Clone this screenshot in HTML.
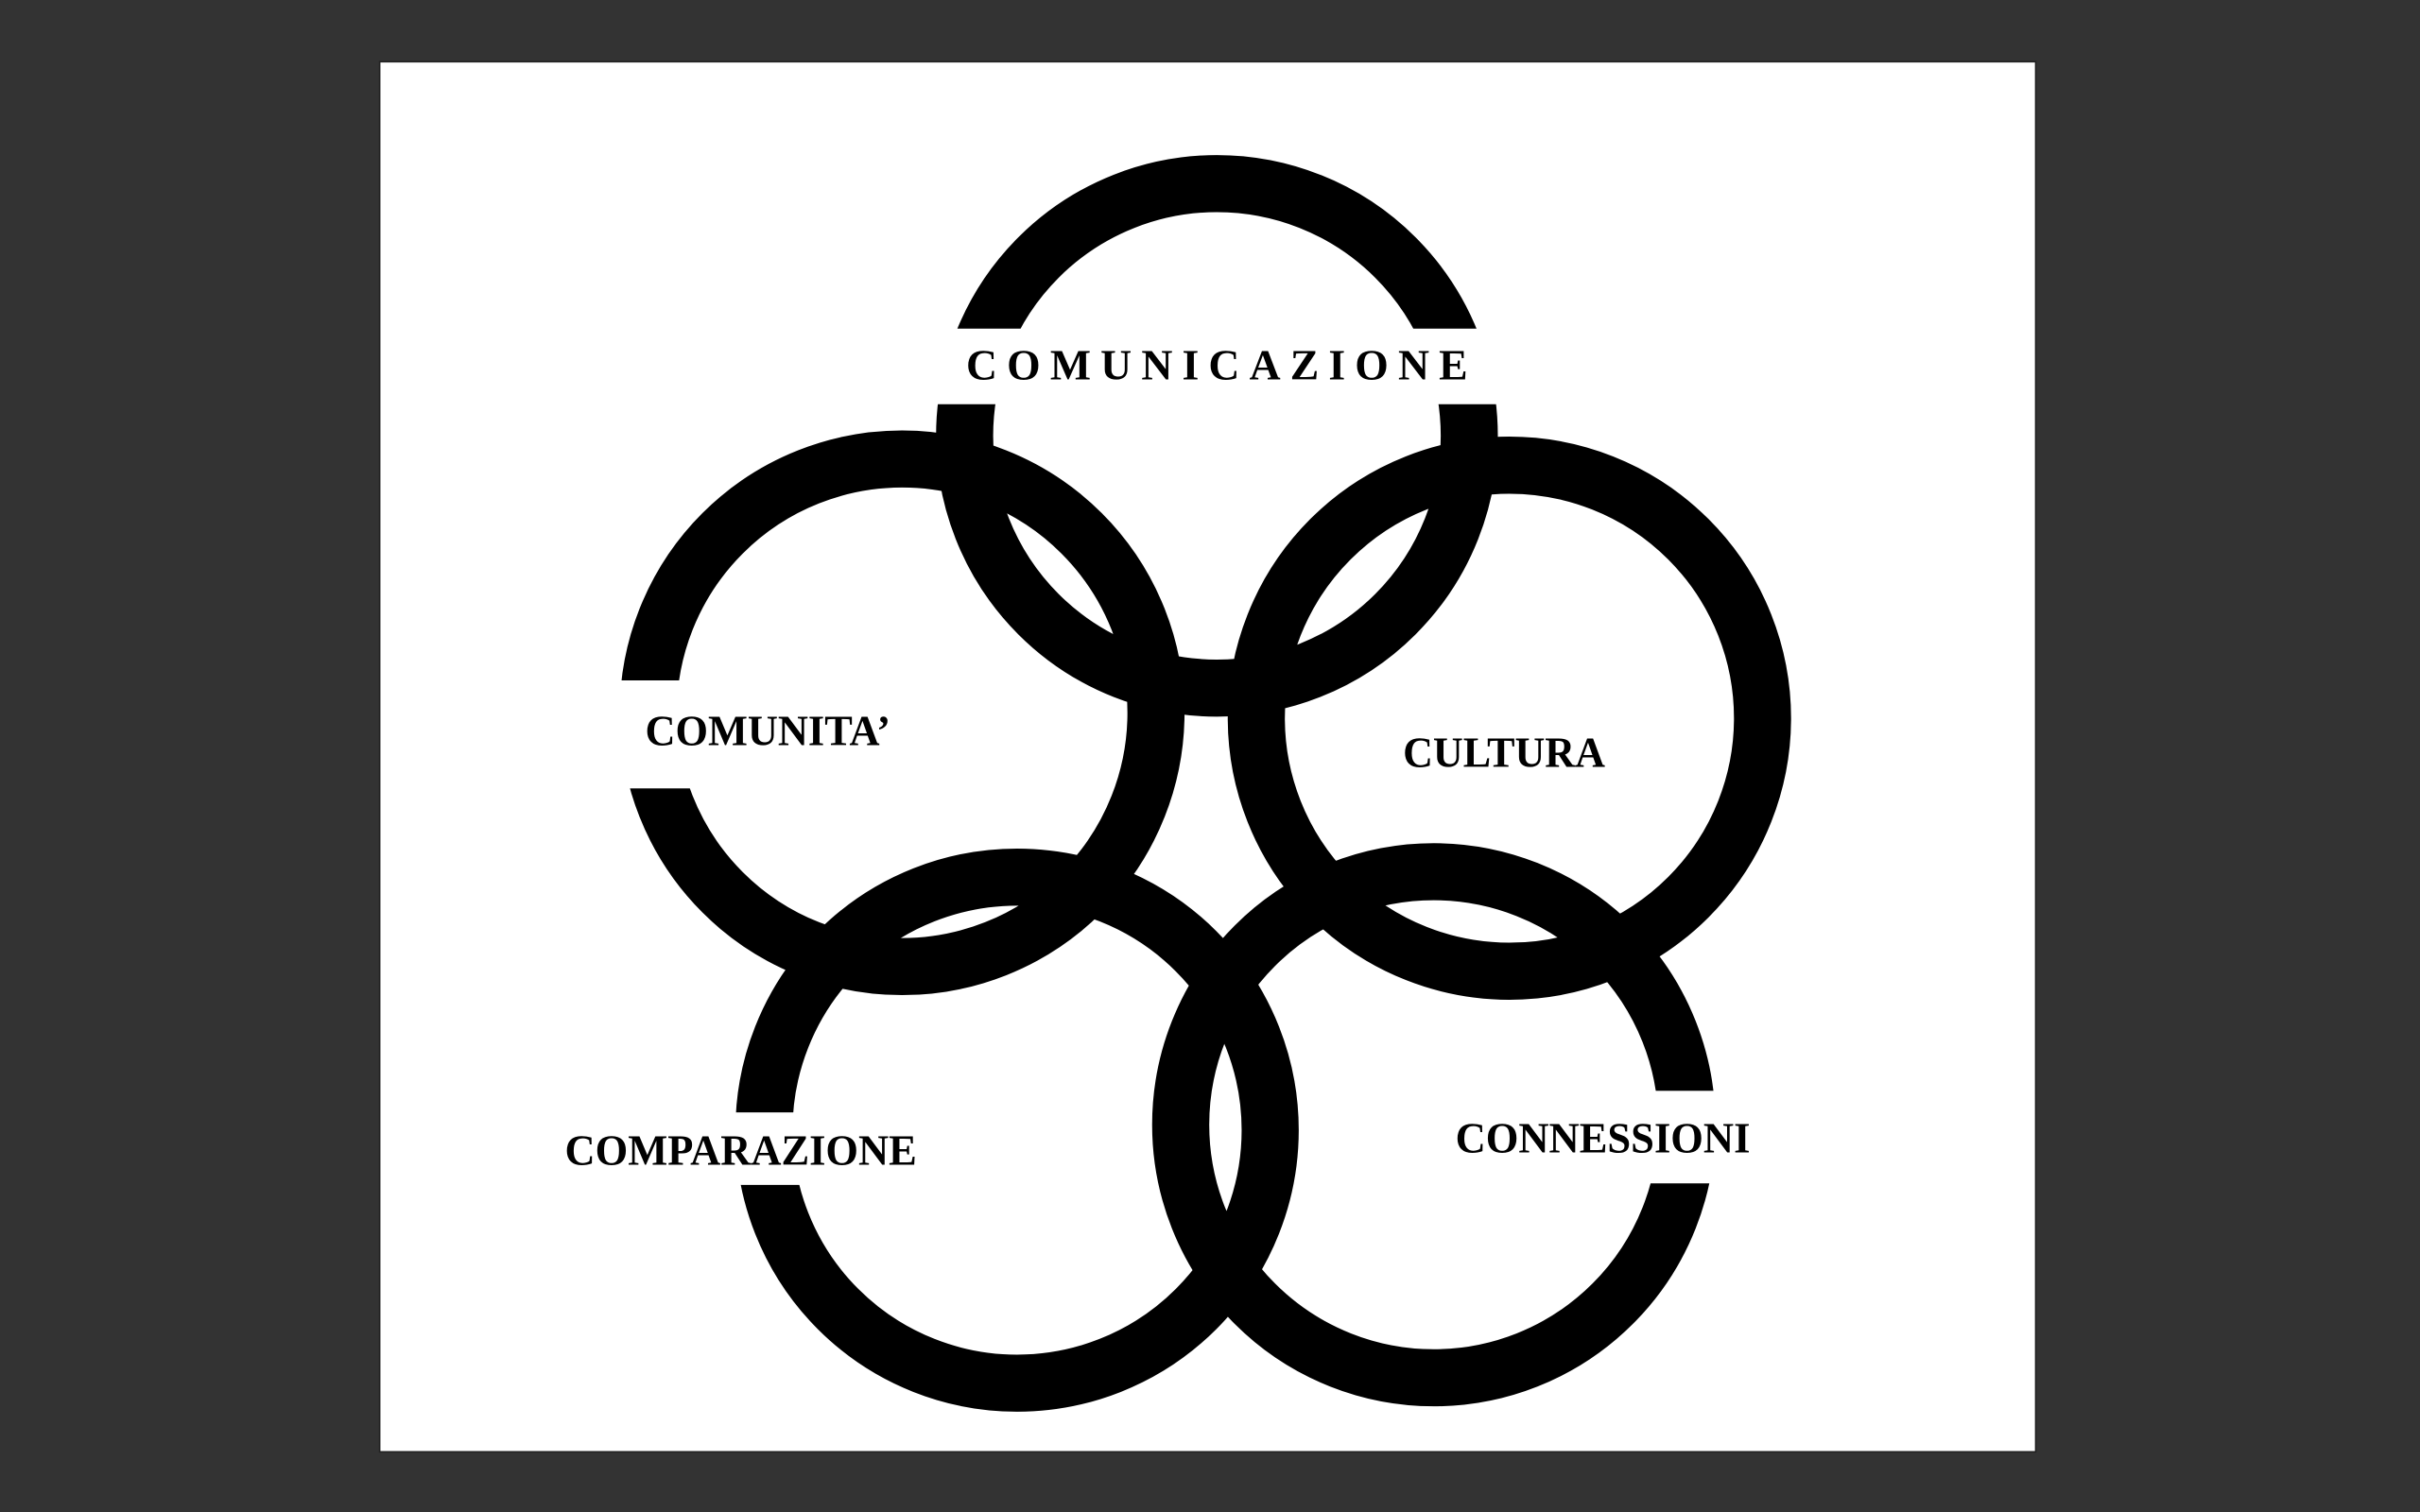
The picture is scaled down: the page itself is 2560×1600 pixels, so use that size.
<!DOCTYPE html>
<html><head><meta charset="utf-8"><style>
html,body{margin:0;padding:0;background:#333;width:2560px;height:1600px;overflow:hidden}
svg{display:block}
</style></head><body>
<svg width="2560" height="1600" viewBox="0 0 1568 980" xmlns="http://www.w3.org/2000/svg">
<rect width="1568" height="980" fill="#333"/>
<rect x="246" y="40" width="1073" height="901" fill="#fff" stroke="#222" stroke-width="1"/>
<g fill="none" stroke="#000" stroke-width="37">
<circle cx="788.5" cy="282.5" r="163.5"/>
<circle cx="584.5" cy="462" r="164.5"/>
<circle cx="978" cy="465.5" r="164"/>
<circle cx="659" cy="732.5" r="164"/>
<circle cx="929" cy="729" r="164"/>
</g>
<g fill="#fff">
<rect x="590" y="213" width="400" height="49"/>
<rect x="390" y="441" width="80" height="70"/>
<rect x="460" y="721" width="70" height="47"/>
<rect x="1060" y="707" width="70" height="60"/>
</g>
<g font-family="'Liberation Serif',serif" font-weight="bold" font-size="28" fill="#000">
<text x="626" y="246" textLength="325" lengthAdjust="spacing">COMUNICAZIONE</text>
<text x="418" y="483" textLength="159" lengthAdjust="spacingAndGlyphs">COMUNITA’</text>
<text x="909" y="497" textLength="131" lengthAdjust="spacingAndGlyphs">CULTURA</text>
<text x="366" y="755" textLength="228" lengthAdjust="spacingAndGlyphs">COMPARAZIONE</text>
<text x="943" y="747" textLength="191" lengthAdjust="spacingAndGlyphs">CONNESSIONI</text>
</g>
</svg>
</body></html>
